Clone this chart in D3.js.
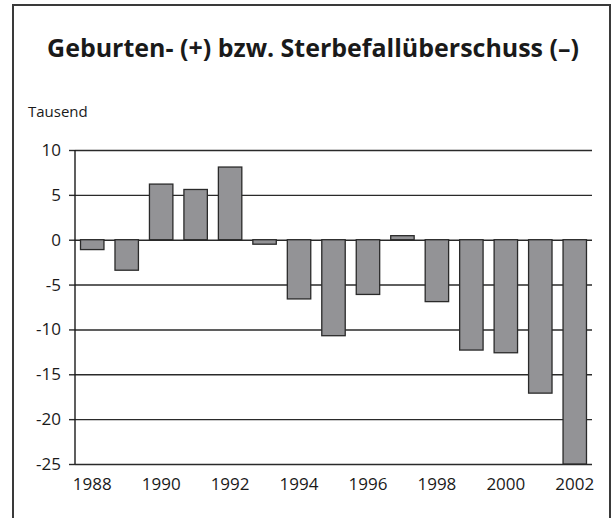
<!DOCTYPE html>
<html>
<head>
<meta charset="utf-8">
<script src="https://d3js.org/d3.v7.min.js"></script>
<style>
  body { margin: 0; background: #fff; }
  svg { display: block; }
  text { font-family: "Open Sans", "Noto Sans", sans-serif; fill: #1a1a1a; }
</style>
</head>
<body>
<script>
// data (thousands)
const years = [1988, 1989, 1990, 1991, 1992, 1993, 1994, 1995, 1996, 1997, 1998, 1999, 2000, 2001, 2002];
const values = [-1.1, -3.4, 6.2, 5.6, 8.1, -0.5, -6.6, -10.7, -6.1, 0.45, -6.9, -12.3, -12.6, -17.1, -25];
const yTicks = [10, 5, 0, -5, -10, -15, -20, -25];
const xLabels = [1988, 1990, 1992, 1994, 1996, 1998, 2000, 2002];

const width = 613, height = 518;
const marginLeft = 75, marginRight = 21, marginTop = 150, marginBottom = 54;

const svg = d3.select("body").append("svg")
  .attr("width", width).attr("height", height);

// frame (open at the bottom)
svg.append("path")
  .attr("d", `M13,${height} L13,5 L610,5 L610,${height}`)
  .attr("fill", "none").attr("stroke", "#3a3a3a").attr("stroke-width", 2);

const title = svg.append("text")
  .attr("x", 313).attr("y", 57)
  .attr("text-anchor", "middle")
  .attr("font-weight", "bold")
  .attr("font-size", 21)
  .text("Geburten- (+) bzw. Sterbefallüberschuss (–)");
const tw = title.node().getComputedTextLength();
title.attr("font-size", 21 * 532 / tw);

svg.append("text")
  .attr("x", 28).attr("y", 117)
  .attr("font-size", 15)
  .text("Tausend");

const x = d3.scaleBand()
  .domain(years)
  .range([marginLeft, width - marginRight])
  .paddingInner(0.32).paddingOuter(0.16);

const y = d3.scaleLinear()
  .domain([-25, 10])
  .range([height - marginBottom, marginTop]);

// gridlines with tick marks to the left
const grid = svg.append("g")
  .attr("transform", `translate(${marginLeft},0)`)
  .call(d3.axisLeft(y).tickValues(yTicks).tickSize(6).tickPadding(8).tickFormat(d => String(d)));
grid.select(".domain").remove();
grid.selectAll(".tick line").attr("stroke", "#2a2a2a").attr("stroke-width", 1.4);
grid.selectAll(".tick").append("line")
  .attr("x1", 0).attr("x2", width - marginRight - marginLeft)
  .attr("stroke", "#2a2a2a").attr("stroke-width", 1.4);
grid.selectAll(".tick text")
  .attr("font-size", 17).attr("fill", "#1a1a1a")
  .style("font-family", '"Open Sans", "Noto Sans", sans-serif');

// bars
svg.append("g").selectAll("rect")
  .data(years)
  .join("rect")
  .attr("x", d => x(d))
  .attr("width", x.bandwidth())
  .attr("y", (d, i) => y(Math.max(0, values[i])))
  .attr("height", (d, i) => Math.abs(y(values[i]) - y(0)))
  .attr("fill", "#939396")
  .attr("stroke", "#2a2a2a")
  .attr("stroke-width", 1.3);

// vertical axis line
svg.append("line")
  .attr("x1", marginLeft).attr("x2", marginLeft)
  .attr("y1", y(10)).attr("y2", y(-25))
  .attr("stroke", "#1a1a1a").attr("stroke-width", 1.4);

// year labels
svg.append("g").selectAll("text")
  .data(xLabels)
  .join("text")
  .attr("x", d => x(d) + x.bandwidth() / 2)
  .attr("y", 490)
  .attr("text-anchor", "middle")
  .attr("font-size", 17)
  .text(d => d);
</script>
</body>
</html>
